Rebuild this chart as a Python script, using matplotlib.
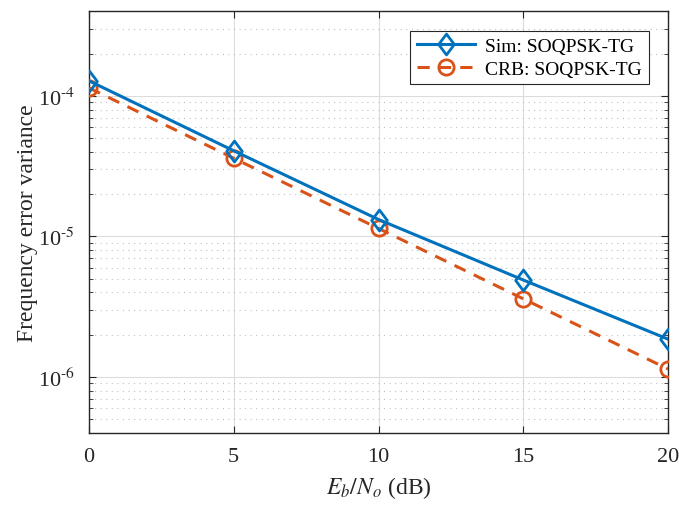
import numpy as np
import matplotlib.pyplot as plt
from matplotlib.path import Path
from matplotlib.ticker import LogLocator, NullFormatter, FuncFormatter

plt.rcParams['font.family'] = ['Liberation Serif', 'DejaVu Serif']
plt.rcParams['mathtext.fontset'] = 'stix'

ebno_db = [0, 5, 10, 15, 20]
sim_var = [1.28e-4, 4.07e-5, 1.32e-5, 4.9e-6, 1.86e-6]
crb_var = [1.14e-4, 3.6e-5, 1.14e-5, 3.6e-6, 1.14e-6]

blue = '#0072BD'
orange = '#D95319'

# MATLAB-like diamond, a bit taller than wide
diamond = Path([(0, 1), (0.75, 0), (0, -1), (-0.75, 0), (0, 1)],
               [Path.MOVETO, Path.LINETO, Path.LINETO, Path.LINETO, Path.CLOSEPOLY])


def pow10_label(v, pos):
    return '10$^{\\text{%d}}$' % int(round(np.log10(v)))


fig = plt.figure(figsize=(6.79, 5.10), dpi=100)
ax = fig.add_axes([0.131, 0.149, 0.853, 0.827])

ax.semilogy(ebno_db, sim_var, '-', color=blue, lw=2.2, marker=diamond, ms=15,
            mfc='none', mew=2, label='Sim: SOQPSK-TG', zorder=4)
ax.semilogy(ebno_db, crb_var, '--', color=orange, lw=2.2, marker='o', ms=11,
            mfc='none', mew=2, dashes=(4, 3), label='CRB: SOQPSK-TG', zorder=3)

ax.set_xlim(0, 20)
ax.set_ylim(4e-7, 4e-4)
ax.set_xticks([0, 5, 10, 15, 20])
ax.yaxis.set_major_locator(LogLocator(base=10))
ax.yaxis.set_major_formatter(FuncFormatter(pow10_label))
ax.yaxis.set_minor_locator(LogLocator(base=10, subs=np.arange(2, 10)))
ax.yaxis.set_minor_formatter(NullFormatter())

ax.grid(True, which='major', color='#dcdcdc', lw=0.8, ls='-')
ax.grid(True, which='minor', axis='y', color='#c0c0c0', lw=0.8, ls=(0, (1, 4)))
ax.set_axisbelow(True)

ax.tick_params(which='both', direction='in', top=True, right=True,
               labelsize=16, color='#262626', labelcolor='#262626', pad=10)
ax.tick_params(which='major', length=5)
ax.tick_params(which='minor', length=3)
for s in ax.spines.values():
    s.set_color('#262626')
    s.set_linewidth(1.0)

ax.set_xlabel('$E_b/N_o$ (dB)', fontsize=17, color='#262626', labelpad=6)
ax.set_ylabel('Frequency error variance', fontsize=17, color='#262626', labelpad=0)

leg = ax.legend(loc='upper right', fontsize=14, fancybox=False, framealpha=1,
                edgecolor='#262626', handlelength=3.0, borderaxespad=1.0,
                labelspacing=0.25, borderpad=0.35, handletextpad=0.5)
leg.get_frame().set_linewidth(0.8)

fig.savefig('out.png', dpi=100)
